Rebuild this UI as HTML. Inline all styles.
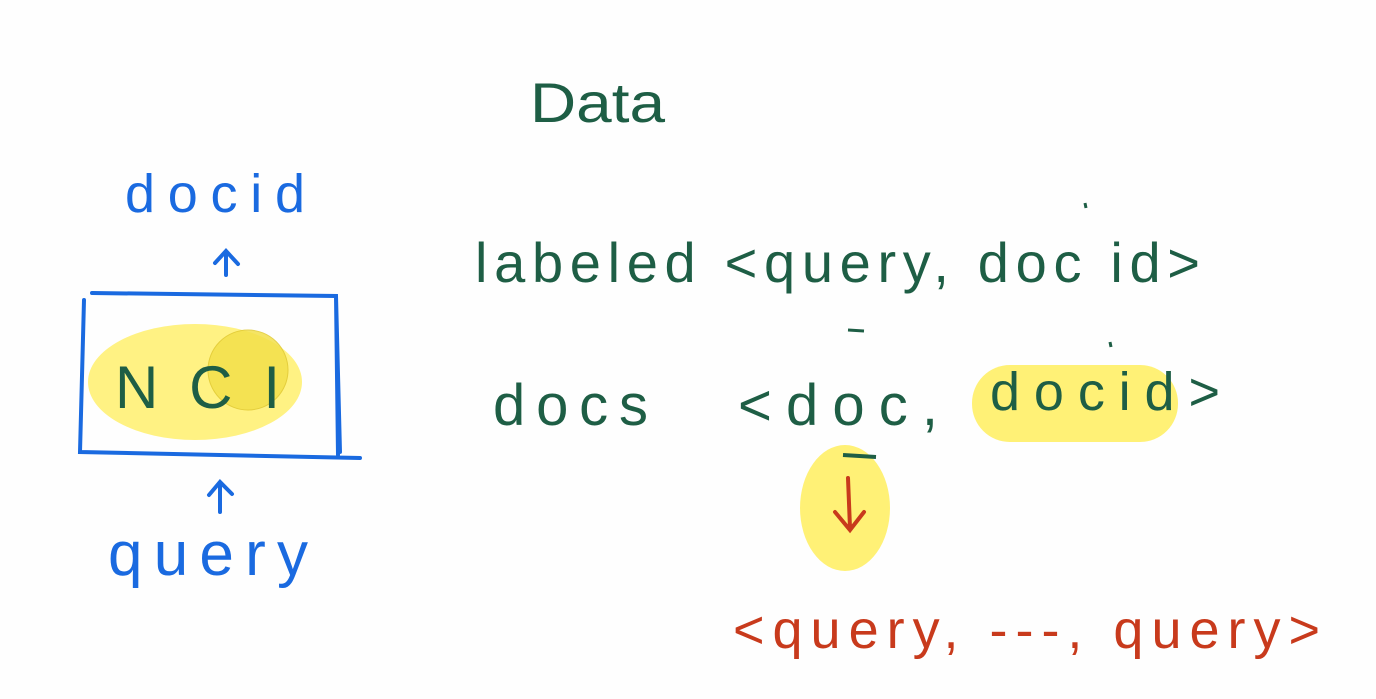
<!DOCTYPE html>
<html><head><meta charset="utf-8"><style>
html,body{margin:0;padding:0;background:#fefefe;}
svg{display:block}
text{font-family:"Liberation Sans",sans-serif;}
</style></head><body>
<svg width="1376" height="699" viewBox="0 0 1376 699" xmlns="http://www.w3.org/2000/svg">
<rect width="1376" height="699" fill="#fefefe"/>
<ellipse cx="195" cy="382" rx="107" ry="58" fill="#fff176" opacity="0.9"/>
<circle cx="248" cy="370" r="40" fill="#f3e04a" opacity="0.85" stroke="#e0c830" stroke-width="1"/>
<rect x="972" y="365" width="206" height="77" rx="38" fill="#fff176"/>
<ellipse cx="845" cy="508" rx="45" ry="63" fill="#fff176"/>
<text x="530" y="122" font-size="56" fill="#1e5e45" textLength="135" lengthAdjust="spacingAndGlyphs">Data</text>
<text x="125" y="212" font-size="54" fill="#1a6ae0" textLength="180" lengthAdjust="spacing">docid</text>
<g stroke="#1a6ae0" stroke-width="4" fill="none" stroke-linecap="round">
<path d="M226 275 L226 252 M215 263 L226 251 L238 264"/>
<path d="M220 512 L220 483 M209 495 L220 482 L232 494"/>
<path d="M92 293 L336 296 L340 452 M84 300 L80 452 L360 458 M336 296 L338 455"/>
</g>
<text x="115" y="408" font-size="60" fill="#1e5e45" textLength="165" lengthAdjust="spacing">NCI</text>
<text x="108" y="575" font-size="62" fill="#1a6ae0" textLength="200" lengthAdjust="spacing">query</text>
<text x="475" y="282" font-size="56" fill="#1e5e45" textLength="725" lengthAdjust="spacing">labeled &lt;query, doc id&gt;</text>
<path d="M848 330 L864 331 M1085 203 L1086 208 M1110 342 L1111 347" stroke="#1e5e45" stroke-width="3"/>
<text x="493" y="425" font-size="58" fill="#1e5e45" textLength="155" lengthAdjust="spacing">docs</text>
<text x="738" y="425" font-size="58" fill="#1e5e45" textLength="200" lengthAdjust="spacing">&lt;doc,</text>
<text x="990" y="410" font-size="54" fill="#1e5e45" textLength="230" lengthAdjust="spacing">docid&gt;</text>
<g stroke="#c83a1c" stroke-width="4" fill="none" stroke-linecap="round">
<path d="M848 478 L850 528 M835 512 L850 530 L864 512"/>
</g>
<path d="M843 455 L876 457" stroke="#1e5e45" stroke-width="4"/>
<text x="733" y="648" font-size="54" fill="#c83a1c" textLength="587" lengthAdjust="spacing">&lt;query,  ---,  query&gt;</text>
</svg>
</body></html>
